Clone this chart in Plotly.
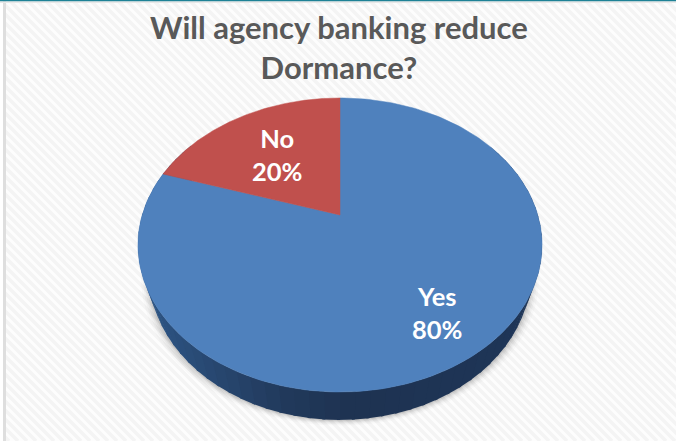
import numpy as np
import plotly.graph_objects as go

# Data
categories = ["Yes", "No"]
values = [80, 20]
slice_colors = ["#4f81bd", "#c0504d"]
title_lines = ["Will agency banking reduce", "Dormance?"]

W, H = 676, 441
APEX_X, APEX_Y = 340.0, 215.0
K, A, B = 0.204, 140.9, 197.8   # tilted-disc projection
DEPTH = 28.0
BASE_SCALE = 0.945              # the base of the disc is narrower (perspective)


def project(frac):
    """Fraction of the way clockwise round the pie -> pixel position on the tilted disc."""
    t = 2 * np.pi * np.asarray(frac)
    u, v = np.sin(t), np.cos(t)
    d = 1 + K * v
    return APEX_X + B * u / d, APEX_Y - A * v / d


def project_base(frac):
    x, y = project(frac)
    return APEX_X + (x - APEX_X) * BASE_SCALE, y + DEPTH


fig = go.Figure()

# Diagonal background stripes
sx, sy = [], []
for c in range(-H, W + H, 9):
    sx += [c, c + H, None]
    sy += [0, H, None]
fig.add_trace(go.Scatter(x=sx, y=sy, mode="lines", line=dict(color="#f4f4f4", width=3.6), hoverinfo="skip"))

# Frame
fig.add_shape(type="rect", x0=3, x1=6, y0=0, y1=H, fillcolor="#dedede", line_width=0, layer="above")
fig.add_shape(type="rect", x0=0, x1=3, y0=0, y1=H, fillcolor="#ffffff", line_width=0, layer="above")
fig.add_shape(type="rect", x0=0, x1=W, y0=0, y1=1.5, fillcolor="#1f8296", line_width=0, layer="above")
fig.add_shape(type="rect", x0=0, x1=W, y0=1.5, y1=3, fillcolor="#e8e8e8", line_width=0, layer="above")

# Soft shadow beneath the disc
f = np.linspace(0, 1, 241)
xs, ys = project_base(f)
for grow, alpha in [(8, .02), (6, .03), (4.5, .04), (3, .05), (1.5, .07)]:
    fig.add_trace(go.Scatter(
        x=APEX_X + (xs - APEX_X) * (1 + grow / 190), y=ys + grow * .7,
        mode="lines", fill="toself", line_width=0, fillcolor=f"rgba(0,0,0,{alpha})", hoverinfo="skip"))

# Side wall, shaded in strips
wall_f = np.linspace(0.16, 0.84, 69)
for a, b in zip(wall_f[:-1], wall_f[1:]):
    fm = np.linspace(a, b + 0.002, 4)
    tx, ty = project(fm)
    bx, by = project_base(fm)
    mid = tx.mean()
    r = np.interp(mid, [140, 280, 350, 540], [46, 34, 30, 30])
    g = np.interp(mid, [140, 280, 350, 540], [86, 58, 51, 54])
    bl = np.interp(mid, [140, 280, 350, 540], [134, 92, 82, 88])
    fig.add_trace(go.Scatter(
        x=np.r_[tx, bx[::-1]], y=np.r_[ty, by[::-1]],
        mode="lines", fill="toself", line_width=0,
        fillcolor=f"rgb({int(r)},{int(g)},{int(bl)})", hoverinfo="skip"))

# Pie faces, built from the values (clockwise from 12 o'clock, Yes first)
total = sum(values)
start = 0.0
for name, val, col in zip(categories, values, slice_colors):
    ff = np.linspace(start, start + val / total, 200)
    px, py = project(ff)
    fig.add_trace(go.Scatter(
        x=np.r_[APEX_X, px, APEX_X], y=np.r_[APEX_Y, py, APEX_Y],
        mode="lines", fill="toself", fillcolor=col, line=dict(color=col, width=0.5),
        name=name, hovertemplate=f"{name}: {val}%<extra></extra>"))
    start += val / total

# Data labels
label_pos = {"Yes": (437, 312), "No": (277, 154)}
for name, val in zip(categories, values):
    lx, ly = label_pos[name]
    fig.add_annotation(x=lx, y=ly, text=f"{name}<br>{val}%", showarrow=False,
                       font=dict(family="Lato", size=25.5, color="white", weight="bold"))

# Title
fig.add_annotation(x=339, y=47, text="<br>".join(title_lines), showarrow=False,
                   font=dict(family="Lato", size=31, color="#595959", weight="bold"))

fig.update_layout(
    width=W, height=H, autosize=False, showlegend=False,
    margin=dict(l=0, r=0, t=0, b=0),
    paper_bgcolor="#fdfdfd", plot_bgcolor="#fdfdfd",
    xaxis=dict(range=[0, W], visible=False, fixedrange=True),
    yaxis=dict(range=[H, 0], visible=False, fixedrange=True),
)
fig.write_html("out.html", config={"displayModeBar": False},
               post_script="document.body.style.margin='0';document.body.style.overflow='hidden';")
